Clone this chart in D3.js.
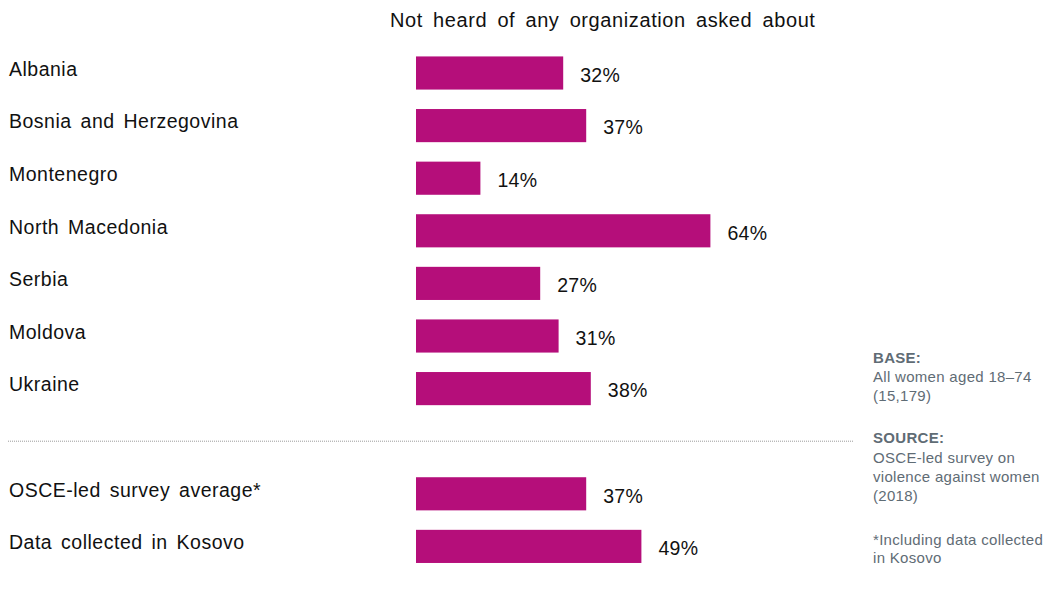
<!DOCTYPE html>
<html><head><meta charset="utf-8">
<script src="https://cdn.jsdelivr.net/npm/d3@7"></script>
<style>body{margin:0;background:#fff;} text{font-family:"Liberation Sans",Arial,sans-serif;}</style>
</head><body><svg id="c" width="1048" height="589"></svg>
<script>
const categories = ["Albania","Bosnia and Herzegovina","Montenegro","North Macedonia","Serbia","Moldova","Ukraine","","OSCE-led survey average*","Data collected in Kosovo"];
const values = [32,37,14,64,27,31,38,null,37,49];
const title = "Not heard of any organization asked about";
const notes = [
  {text:"BASE:", bold:true, y:358},
  {text:"All women aged 18–74", y:377},
  {text:"(15,179)", y:396},
  {text:"SOURCE:", bold:true, y:438},
  {text:"OSCE-led survey on", y:458},
  {text:"violence against women", y:477},
  {text:"(2018)", y:496},
  {text:"*Including data collected", y:540},
  {text:"in Kosovo", y:558}
];
const svg = d3.select("#c");
const x = d3.scaleLinear().domain([0,100]).range([416,876]);
const y = d3.scaleBand().domain(d3.range(categories.length)).range([46.7,572.7]).paddingInner(0.37).paddingOuter(0.185);
svg.append("text").attr("x",390).attr("y",27).attr("font-size",20).attr("fill","#111")
  .attr("word-spacing",4).attr("letter-spacing",0.6).text(title);
const rows = categories.map((c,i)=>({c,v:values[i],i})).filter(d=>d.v!==null);
svg.selectAll("rect.bar").data(rows).join("rect").attr("class","bar")
  .attr("x",x(0)).attr("y",d=>y(d.i)).attr("width",d=>x(d.v)-x(0)).attr("height",y.bandwidth())
  .attr("fill","#b50e7a");
svg.selectAll("text.cat").data(rows).join("text").attr("class","cat")
  .attr("x",9).attr("y",d=>y(d.i)+y.bandwidth()/2-4).attr("dy","0.35em")
  .attr("font-size",19.5).attr("word-spacing",3).attr("letter-spacing",0.5).attr("fill","#111").text(d=>d.c);
svg.selectAll("text.val").data(rows).join("text").attr("class","val")
  .attr("x",d=>x(d.v)+17).attr("y",d=>y(d.i)+y.bandwidth()/2+2).attr("dy","0.35em")
  .attr("font-size",19.5).attr("letter-spacing",0.3).attr("fill","#111").text(d=>d.v+"%");
const divY = y(7)+y.bandwidth()/2;
svg.append("line").attr("x1",8).attr("x2",853).attr("y1",divY).attr("y2",divY)
  .attr("stroke","#9a9a9a").attr("stroke-width",1).attr("stroke-dasharray","1,1");
svg.selectAll("text.note").data(notes).join("text").attr("class","note")
  .attr("x",873).attr("y",d=>d.y).attr("dy","0.35em").attr("font-size",15).attr("letter-spacing",0.3)
  .attr("font-weight",d=>d.bold?"bold":"normal").attr("fill","#5f6c75").text(d=>d.text);
</script></body></html>
